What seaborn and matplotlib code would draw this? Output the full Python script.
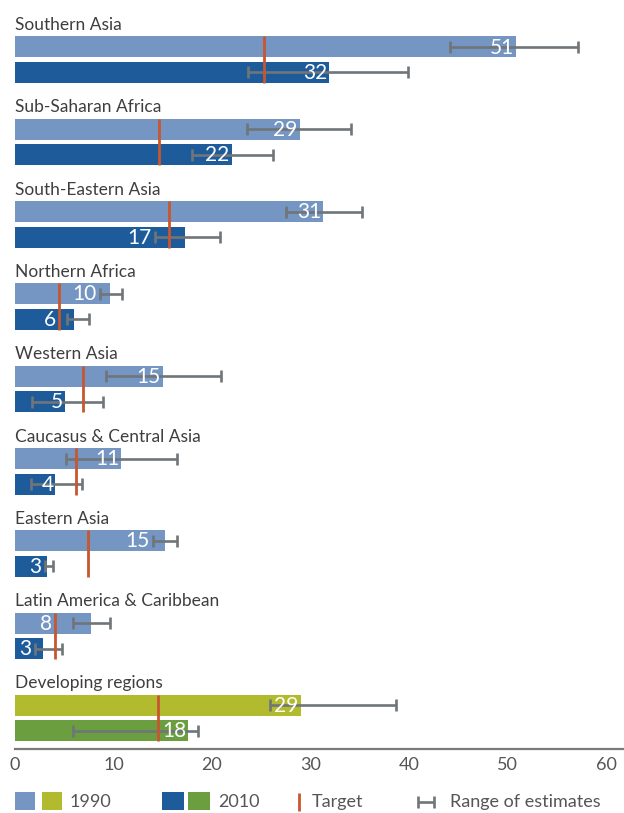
import numpy as np
import pandas as pd
import matplotlib
matplotlib.use('Agg')
import matplotlib.pyplot as plt
from matplotlib.patches import Rectangle
import seaborn as sns

# data
regions = ['Southern Asia', 'Sub-Saharan Africa', 'South-Eastern Asia', 'Northern Africa',
           'Western Asia', 'Caucasus & Central Asia', 'Eastern Asia',
           'Latin America & Caribbean', 'Developing regions']
val_1990 = [50.9, 28.9, 31.3, 9.6, 15.0, 10.8, 15.2, 7.7, 29.0]
val_2010 = [31.9, 22.0, 17.3, 6.0, 5.1, 4.1, 3.2, 2.8, 17.6]
lab_1990 = [51, 29, 31, 10, 15, 11, 15, 8, 29]
lab_2010 = [32, 22, 17, 6, 5, 4, 3, 3, 18]
lo_1990 = [44.2, 23.6, 27.5, 8.6, 9.2, 5.2, 14.0, 5.9, 25.9]
hi_1990 = [57.2, 34.1, 35.2, 10.9, 20.9, 16.4, 16.4, 9.6, 38.7]
lo_2010 = [23.7, 18.0, 14.2, 5.3, 1.7, 1.6, 3.0, 2.0, 5.9]
hi_2010 = [39.9, 26.2, 20.8, 7.5, 8.9, 6.8, 3.9, 4.8, 18.6]
target = [25.3, 14.6, 15.6, 4.5, 6.9, 6.2, 7.4, 4.1, 14.5]
xticks = [0, 10, 20, 30, 40, 50, 60]

# colours
c_1990 = '#7596c2'
c_2010 = '#1d5b9b'
c_dev90 = '#b2bb2d'
c_dev10 = '#6b9e3e'
c_target = '#c8562e'
c_err = '#6f7578'
c_text = '#3e3e3e'

sns.set_theme(style='white')
plt.rcParams['font.family'] = ['Lato', 'DejaVu Sans']
narrow = ['Liberation Sans Narrow', 'Lato', 'DejaVu Sans']

# layout (pixel-like units, y grows downward)
PITCH = 82.3
PX = 9.85          # pixels per data unit on x
n = len(regions)
idx = np.arange(n)
y_lab = 30 + PITCH * idx
y_90 = 47 + PITCH * idx
y_10 = 72.5 + PITCH * idx
BAR_H = 21

rows = []
for i, r in enumerate(regions):
    dev = r == 'Developing regions'
    rows.append({'region': r, 'value': val_1990[i], 'pos': y_90[i], 'key': 'dev90' if dev else 'r90'})
    rows.append({'region': r, 'value': val_2010[i], 'pos': y_10[i], 'key': 'dev10' if dev else 'r10'})
df = pd.DataFrame(rows)
pal = {'r90': c_1990, 'r10': c_2010, 'dev90': c_dev90, 'dev10': c_dev10}

fig = plt.figure(figsize=(6.24, 8.13), dpi=100)
ax = fig.add_axes([15 / 624, 64 / 813, 609 / 624, 749 / 813])

sns.barplot(data=df, x='value', y='pos', hue='key', palette=pal, orient='h',
            native_scale=True, dodge=False, width=BAR_H / 25.5, errorbar=None,
            saturation=1, legend=False, linewidth=0, ax=ax)

ax.set_xlim(0, 609 / PX)
ax.set_ylim(749, 0)

# range of estimates
for vals, lo, hi, pos in [(val_1990, lo_1990, hi_1990, y_90), (val_2010, lo_2010, hi_2010, y_10)]:
    v = np.array(vals)
    ax.errorbar(v, pos, xerr=[v - np.array(lo), np.array(hi) - v], fmt='none',
                ecolor=c_err, elinewidth=1.9, capsize=4.5, capthick=1.9, zorder=3)

# targets
ax.vlines(target, y_90 - BAR_H / 2, y_10 + BAR_H / 2, color=c_target, lw=2.0, zorder=4)


def label_right(end, lo, tgt, ndig):
    # keep the value label clear of the target line and the left cap
    right = end - 0.2
    w = 1.0 * ndig
    moved = True
    while moved:
        moved = False
        for ob in (lo, tgt):
            if right - w - 0.8 <= ob <= right:
                right = ob - 0.3
                moved = True
    return right


for vals, labs, lo, pos in [(val_1990, lab_1990, lo_1990, y_90), (val_2010, lab_2010, lo_2010, y_10)]:
    for i in idx:
        xr = label_right(vals[i], lo[i], target[i], len(str(labs[i])))
        ax.text(xr, pos[i] + 0.5, str(labs[i]), ha='right', va='center', color='white',
                fontsize=15, family=narrow, zorder=5)

for i, r in enumerate(regions):
    ax.text(0, y_lab[i], r, ha='left', va='baseline', fontsize=12.5, color=c_text)

for s in ['left', 'top', 'right']:
    ax.spines[s].set_visible(False)
ax.spines['bottom'].set_color('#7a7a7a')
ax.spines['bottom'].set_linewidth(1.6)
ax.set_yticks([])
ax.set_xticks(xticks)
ax.set_xticklabels([str(t) for t in xticks])
ax.tick_params(axis='x', length=0, pad=6, labelsize=13, labelcolor='#555555')
ax.set_xlabel('')
ax.set_ylabel('')

# legend, drawn by hand in pixel coordinates
lax = fig.add_axes([0, 0, 1, 64 / 813])
lax.set_xlim(0, 624)
lax.set_ylim(64, 0)
lax.axis('off')
for x0, w, c in [(15, 20, c_1990), (42, 20, c_dev90), (162, 22, c_2010), (188, 22, c_dev10)]:
    lax.add_patch(Rectangle((x0, 43), w, 18, color=c, lw=0))
lax.vlines(299, 44, 62, color=c_target, lw=2.0)
lax.hlines(53, 418, 434, color=c_err, lw=1.9)
lax.vlines([418, 434], 47, 59, color=c_err, lw=1.9)
for x0, t in [(70, '1990'), (218, '2010'), (312, 'Target'), (450, 'Range of estimates')]:
    lax.text(x0, 53, t, ha='left', va='center', fontsize=13, color='#555555')

fig.savefig('out.png', dpi=100)
